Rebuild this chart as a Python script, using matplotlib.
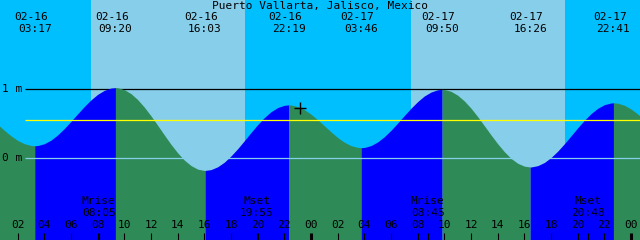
import matplotlib
matplotlib.use('Agg')
import matplotlib.pyplot as plt
import matplotlib.transforms as mtransforms

# Plot config
DPI = 100
WIDTH = 640.0
HEIGHT = 240.0
FONT = 'DejaVu Sans Mono'
FSIZE = 8.0

TITLE = 'Puerto Vallarta, Jalisco, Mexico'

# predicted level (m), every half hour from 02-16 00:00
HOURS = [i * 0.5 for i in range(99)]
LEVELS = [0.571, 0.486, 0.401, 0.322, 0.255, 0.208, 0.182, 0.181, 0.207, 0.259,
          0.335, 0.428, 0.532, 0.641, 0.747, 0.843, 0.923, 0.981, 1.014, 1.018,
          0.991, 0.933, 0.847, 0.737, 0.611, 0.474, 0.334, 0.198, 0.075, -0.030,
          -0.109, -0.161, -0.180, -0.168, -0.127, -0.060, 0.030, 0.135, 0.251, 0.370,
          0.484, 0.586, 0.671, 0.731, 0.764, 0.768, 0.746, 0.701, 0.635, 0.555,
          0.468, 0.379, 0.297, 0.229, 0.180, 0.154, 0.153, 0.180, 0.233, 0.309,
          0.402, 0.507, 0.616, 0.722, 0.818, 0.899, 0.956, 0.989, 0.993, 0.967,
          0.910, 0.827, 0.722, 0.600, 0.468, 0.335, 0.207, 0.092, -0.005, -0.076,
          -0.118, -0.130, -0.111, -0.065, 0.007, 0.099, 0.206, 0.321, 0.437, 0.547,
          0.643, 0.720, 0.773, 0.798, 0.795, 0.765, 0.711, 0.638, 0.551]

# highs and lows
EXT_DATES = ['02-16', '02-16', '02-16', '02-16', '02-17', '02-17', '02-17', '02-17']
EXT_TIMES = ['03:17', '09:20', '16:03', '22:19', '03:46', '09:50', '16:26', '22:41']
EXT_LEVELS = [0.178, 1.02, -0.18, 0.77, 0.15, 0.995, -0.13, 0.80]

# moon events
MOON_DAYS = [0, 0, 1, 1]
MOON_NAMES = ['Mrise', 'Mset', 'Mrise', 'Mset']
MOON_TIMES = ['08:05', '19:55', '08:45', '20:48']

# daylight
SUNRISE = '07:30'
SUNSET = '19:03'

NOW_T = 23.17
NOW_H = 0.725

MEAN_LEVEL = 0.551

X0, X1 = 0.675, 48.675
Y0, Y1 = -1.188, 2.290


def hours(s, day=0):
    hh, mm = s.split(':')
    return day * 24 + int(hh) + int(mm) / 60.0


def py(pix):
    return 1 - pix / HEIGHT


fig = plt.figure(figsize=(WIDTH / DPI, HEIGHT / DPI), dpi=DPI)
ax = fig.add_axes([0, 0, 1, 1])
ax.set_xlim(X0, X1)
ax.set_ylim(Y0, Y1)
ax.axis('off')
trans = mtransforms.blended_transform_factory(ax.transData, ax.transAxes)

# night / day background
ax.axvspan(X0, X1, color='#00BFFF', lw=0, zorder=0)
for d in range(2):
    ax.axvspan(hours(SUNRISE, d), hours(SUNSET, d), color='#87CEEB', lw=0, zorder=0)

x_start = X0 + 25 / (WIDTH / (X1 - X0))
ax.hlines(1.0, x_start, X1, color='black', lw=0.9, zorder=1)

# tide curve, blue when rising, green when falling
ext_t = [hours(t, 0 if d == '02-16' else 1) for d, t in zip(EXT_DATES, EXT_TIMES)]
pts = sorted(list(zip(HOURS, LEVELS)) + list(zip(ext_t, EXT_LEVELS)))
bounds = [HOURS[0]] + ext_t + [HOURS[-1]]
for a, b in zip(bounds[:-1], bounds[1:]):
    seg = [(t, h) for t, h in pts if a <= t <= b]
    st = [p[0] for p in seg]
    sh = [p[1] for p in seg]
    col = '#0000FF' if sh[-1] > sh[0] else '#2E8B57'
    ax.fill_between(st, sh, Y0, color=col, lw=0, antialiased=False, zorder=2)

ax.hlines(MEAN_LEVEL, x_start, X1, color='yellow', lw=0.9, zorder=3)
ax.hlines(0.0, x_start, X1, color='#87CEEB', lw=0.9, zorder=3)

ax.plot([NOW_T], [NOW_H], '+', color='black', ms=9, mew=1, zorder=4)

txt = dict(family=FONT, fontsize=FSIZE, color='black', ha='center', va='center', zorder=5)

ax.text(0.5, py(6), TITLE, transform=ax.transAxes, **txt)

for d, t, x in zip(EXT_DATES, EXT_TIMES, ext_t):
    ax.text(x - 0.27, py(17), d, transform=trans, **txt)
    ax.text(x, py(29), t, transform=trans, **txt)

ax.text(2 / WIDTH, py(89), '1 m', transform=ax.transAxes, family=FONT, fontsize=FSIZE,
        ha='left', va='center', zorder=5)
ax.text(2 / WIDTH, py(158), '0 m', transform=ax.transAxes, family=FONT, fontsize=FSIZE,
        ha='left', va='center', zorder=5)

# hour ticks
for h in range(2, 49, 2):
    ax.text(h, py(225.5), '%02d' % (h % 24), transform=trans, **txt)
    lw = 2.2 if h % 24 == 0 else 0.8
    ax.vlines(h, py(240), py(233), transform=trans, color='black', lw=lw, zorder=5)

for d, n, t in zip(MOON_DAYS, MOON_NAMES, MOON_TIMES):
    x = hours(t, d)
    ax.text(x, py(201.5), n, transform=trans, **txt)
    ax.text(x, py(213), t, transform=trans, **txt)
    ax.vlines(x, py(240), py(233), transform=trans, color='black', lw=0.8, zorder=5)

plt.savefig('out.png', dpi=DPI)
